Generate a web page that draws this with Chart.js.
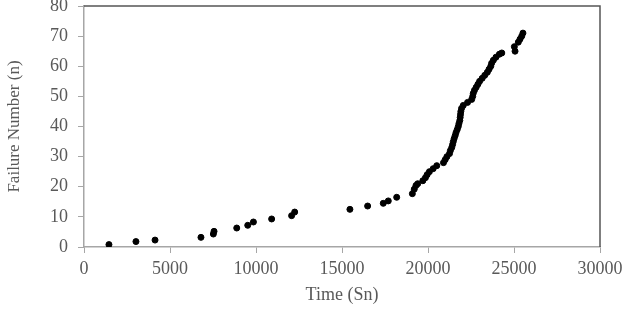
<!DOCTYPE html>
<html>
<head>
<meta charset="utf-8">
<script src="https://cdn.jsdelivr.net/npm/chart.js@4"></script>
<style>
  html, body { margin: 0; padding: 0; background: #fff; }
  #wrap { width: 627px; height: 309px; }
</style>
</head>
<body>
<div id="wrap"><canvas id="failureChart" width="627" height="309"></canvas></div>
<script>
// cumulative failure times (Sn) and failure number (n)
const failureTimes = [
    1450, 3020, 4130, 6800, 7520, 7560, 8880, 9520, 9850, 10910, 12070, 12250,
    15460, 16490, 17400, 17690, 18180, 19090, 19200, 19300, 19400, 19700, 19850,
    19950, 20080, 20300, 20510, 20900, 21000, 21100, 21250, 21300, 21380, 21430,
    21470, 21520, 21580, 21630, 21700, 21760, 21800, 21850, 21870, 21890, 21910,
    21950, 22050, 22300, 22540, 22600, 22630, 22700, 22800, 22900, 23000, 23150,
    23300, 23450, 23550, 23650, 23700, 23800, 23950, 24150, 24290, 25060, 25020,
    25250, 25350, 25450, 25520
];
const failureNumbers = [
    0.8, 1.8, 2.3, 3.2, 4.3, 5.2, 6.3, 7.2, 8.3, 9.3, 10.4, 11.6,
    12.5, 13.6, 14.5, 15.3, 16.5, 17.7, 19.2, 20.4, 21, 22, 23,
    24, 25, 26, 27, 28, 29, 30, 31, 32, 33, 34,
    35, 36, 37, 38, 39, 40, 41, 42, 43, 44, 45,
    46, 47, 48, 49, 50, 51, 52, 53, 54, 55, 56,
    57, 58, 59, 60, 61, 62, 63, 64, 64.4, 65, 66.5,
    68, 69, 70, 71
];
const xTicks = [0, 5000, 10000, 15000, 20000, 25000, 30000];
const yTicks = [0, 10, 20, 30, 40, 50, 60, 70, 80];

const points = failureTimes.map((t, i) => ({ x: t, y: failureNumbers[i] }));

const textColor = '#595959';
const axisColor = '#a6a6a6';
const serif = 'Liberation Serif, Times New Roman, serif';

// plot frame on the top and right side
const framePlugin = {
    id: 'frame',
    afterDraw(chart) {
        const a = chart.chartArea;
        const c = chart.ctx;
        c.save();
        c.strokeStyle = '#555555';
        c.lineWidth = 1.5;
        c.beginPath();
        c.moveTo(a.left, a.top);
        c.lineTo(a.right, a.top);
        c.lineTo(a.right, a.bottom);
        c.stroke();
        c.restore();
    }
};

const ctx = document.getElementById('failureChart').getContext('2d');

let failureChart = new Chart(ctx, {
    type: 'scatter',
    data: {
        datasets: [{
            label: 'Failures',
            data: points,
            backgroundColor: '#000',
            borderColor: '#000',
            pointRadius: 3,
            pointHoverRadius: 3
        }]
    },
    options: {
        responsive: false,
        animation: false,
        layout: { padding: { top: 6, right: 27, left: 0, bottom: 0 } },
        plugins: {
            legend: { display: false },
            tooltip: { enabled: false }
        },
        scales: {
            x: {
                type: 'linear',
                min: 0,
                max: 30000,
                afterBuildTicks: s => { s.ticks = xTicks.map(v => ({ value: v })); },
                afterFit: s => {
                    s.height = 62;
                    s.paddingLeft = 0; s.paddingRight = 0;
                },
                grid: { drawOnChartArea: false, drawTicks: true, tickLength: 6, color: axisColor },
                border: { color: axisColor, width: 1.5 },
                ticks: {
                    color: textColor,
                    font: { family: serif, size: 18 },
                    padding: 5,
                    maxRotation: 0,
                    callback: v => String(v)
                },
                title: {
                    display: true,
                    text: 'Time (Sn)',
                    color: textColor,
                    font: { family: serif, size: 18 },
                    padding: { top: 0, bottom: 3 }
                }
            },
            y: {
                type: 'linear',
                min: 0,
                max: 80,
                afterBuildTicks: s => { s.ticks = yTicks.map(v => ({ value: v })); },
                afterFit: s => {
                    s.width = 84;
                    s.paddingTop = 0; s.paddingBottom = 0;
                },
                grid: { drawOnChartArea: false, drawTicks: true, tickLength: 6, color: axisColor },
                border: { color: axisColor, width: 1.5 },
                ticks: {
                    color: textColor,
                    font: { family: serif, size: 18 },
                    padding: 10
                },
                title: {
                    display: true,
                    text: 'Failure Number (n)',
                    color: textColor,
                    font: { family: serif, size: 17 },
                    padding: { top: 4, bottom: 0 }
                }
            }
        }
    },
    plugins: [framePlugin]
});
</script>
</body>
</html>
